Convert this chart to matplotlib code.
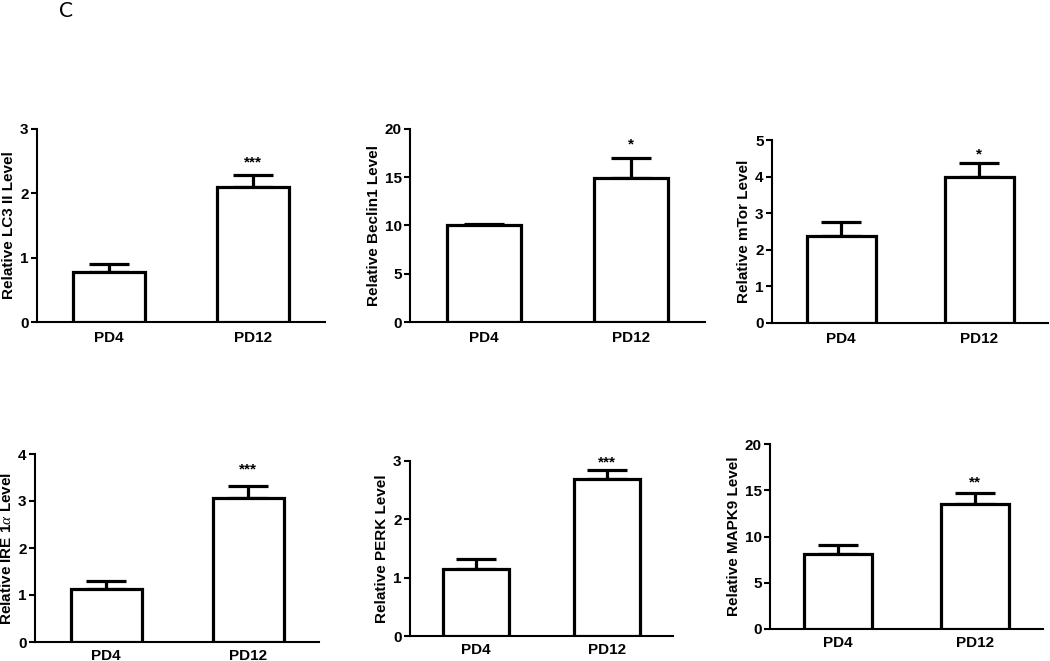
import matplotlib
matplotlib.use("Agg")
import matplotlib.pyplot as plt
from matplotlib.ticker import MultipleLocator

plt.rcParams['font.family'] = ['Liberation Sans', 'DejaVu Sans']
plt.rcParams['mathtext.fontset'] = 'custom'
plt.rcParams['mathtext.it'] = 'Liberation Serif:italic'

groups = ["PD4", "PD12"]
ylabels = ["Relative LC3 II Level", "Relative Beclin1 Level", "Relative mTor Level",
           "Relative IRE 1$\\it{\\alpha}$ Level", "Relative PERK Level", "Relative MAPK9 Level"]
means = [[0.78, 2.10], [10.0, 14.9], [2.37, 4.00],
         [1.13, 3.07], [1.15, 2.70], [8.15, 13.55]]
upper = [[0.90, 2.28], [10.2, 17.0], [2.75, 4.37],
         [1.30, 3.31], [1.32, 2.84], [9.05, 14.65]]
ymax = [3, 20, 5, 4, 3, 20]
ystep = [1, 5, 1, 1, 1, 5]
stars = ["***", "*", "*", "***", "***", "**"]

# axes rectangles in pixels: (x_left, x_right, y_top, y_bottom)
W, H = 1050, 661
rects = [(37, 325, 129, 322), (410, 705, 129, 322), (772, 1048, 140, 323),
         (35, 319, 454, 642), (410, 673, 461, 636), (770, 1043, 444, 629)]
star_off = [9, 10, 6, 12, 6, 8]
FS = 11

fig = plt.figure(figsize=(W / 100, H / 100), dpi=100)
fig.text(66 / W, 1 - 11 / H, "C", fontsize=15, family=['Lato', 'DejaVu Sans'],
         ha='center', va='center')

for i in range(6):
    x0, x1, yt, yb = rects[i]
    ax = fig.add_axes([x0 / W, 1 - yb / H, (x1 - x0) / W, (yb - yt) / H])
    xs = list(range(len(groups)))
    ax.bar(xs, means[i], width=0.5, color='white', edgecolor='black',
           linewidth=2.3, zorder=3)
    err = [u - m for u, m in zip(upper[i], means[i])]
    ax.errorbar(xs, means[i], yerr=[[0] * len(err), err], fmt='none',
                ecolor='black', elinewidth=2.3, capsize=14.5, capthick=2.3, zorder=2)
    ax.annotate(stars[i], xy=(1, upper[i][1]), xytext=(0, star_off[i]),
                textcoords='offset points', ha='center', va='center',
                fontsize=FS, fontweight='bold')
    ax.set_xlim(-0.5, 1.5)
    ax.set_ylim(0, ymax[i])
    ax.yaxis.set_major_locator(MultipleLocator(ystep[i]))
    ax.set_xticks(xs)
    ax.set_xticklabels(groups, fontsize=FS, fontweight='bold')
    ax.tick_params(axis='x', length=0, pad=6.5 if i < 3 else 5)
    ax.tick_params(axis='y', length=4, width=1.5, pad=2, labelsize=FS)
    for lab in ax.get_yticklabels():
        lab.set_fontweight('bold')
    ax.set_ylabel(ylabels[i], fontsize=FS, fontweight='bold', labelpad=3)
    for s in ['top', 'right']:
        ax.spines[s].set_visible(False)
    for s in ['left', 'bottom']:
        ax.spines[s].set_linewidth(1.5)

fig.savefig("out.png", dpi=100)
